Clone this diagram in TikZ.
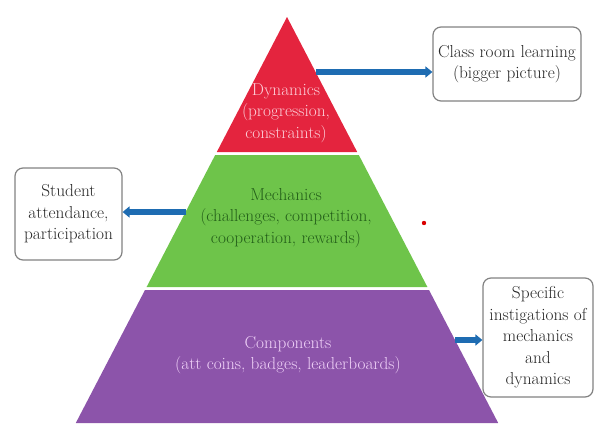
\documentclass[tikz,border=0pt]{standalone}
\usetikzlibrary{arrows.meta}
\definecolor{dynred}{RGB}{228,36,62}
\definecolor{mechgreen}{RGB}{110,196,74}
\definecolor{comppurple}{RGB}{140,84,170}
\definecolor{arrowblue}{RGB}{30,108,178}
\definecolor{boxgray}{RGB}{130,130,130}
\definecolor{dyntext}{RGB}{252,205,215}
\definecolor{mechtext}{RGB}{35,95,25}
\definecolor{comptext}{RGB}{240,210,248}
\begin{document}
\begin{tikzpicture}[x=1pt,y=-1pt,
  lbl/.style={align=center,font=\fontsize{17.3}{21.5}\selectfont,inner sep=0pt},
  infobox/.style={draw=boxgray,line width=1.2pt,rounded corners=8pt,fill=white,
    align=center,font=\fontsize{17.3}{21.5}\selectfont,inner sep=0pt,text=black!85},
  bluearrow/.style={draw=arrowblue,line width=5.5pt,-{Triangle[length=7pt,width=11pt]}}]
\useasboundingbox (0,0) rectangle (597,423);
% pyramid layers
\fill[dynred] (287,17) -- (357.2,152) -- (216.8,152) -- cycle;
\fill[mechgreen] (215.2,155) -- (358.8,155) -- (427.4,287) -- (146.6,287) -- cycle;
\fill[comppurple] (145,290) -- (429,290) -- (498.2,423) -- (75.8,423) -- cycle;
% labels
\node[lbl,text=dyntext] (dyn) at (286,113) {Dynamics\\(progression,\\constraints)};
\node[lbl,text=mechtext] (mech) at (286,218) {Mechanics\\(challenges, competition,\\cooperation, rewards)};
\node[lbl,text=comptext] (comp) at (288,355) {Components\\(att coins, badges, leaderboards)};
% boxes
\node[infobox,minimum width=148pt,minimum height=74pt] (cls) at (507,64) {Class room learning\\(bigger picture)};
\node[infobox,minimum width=107pt,minimum height=92pt] (stu) at (68.5,214) {Student\\attendance,\\participation};
\node[infobox,minimum width=110pt,minimum height=119pt] (spec) at (538,337.5) {Specific\\instigations of\\mechanics\\and\\dynamics};
% arrow starts on pyramid edges
\coordinate (d1) at (316,72);
\coordinate (m1) at (186,212);
\coordinate (c1) at (455,340);
\draw[bluearrow] (d1) -- (d1 -| cls.west);
\draw[bluearrow] (m1) -- (m1 -| stu.east);
\draw[bluearrow] (c1) -- (c1 -| spec.west);
% red dot
\fill[red!85!black] (424,223) circle (2.2pt);
\end{tikzpicture}
\end{document}
